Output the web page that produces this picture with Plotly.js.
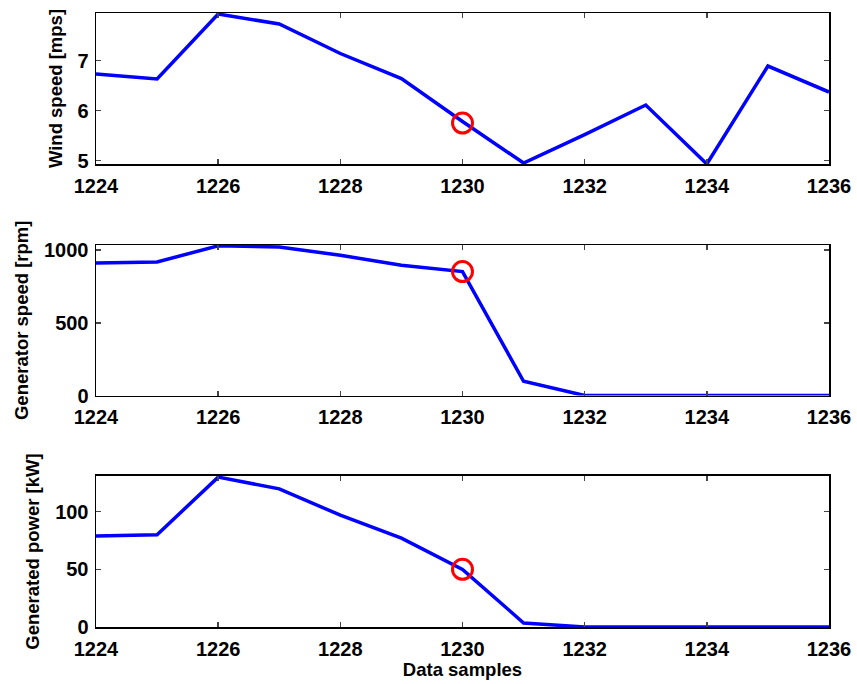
<!DOCTYPE html>
<html><head><meta charset="utf-8">
<script src="https://cdn.plot.ly/plotly-3.0.1.min.js"></script>
<style>body{margin:0;background:#fff}#c{width:857px;height:684px}</style>
</head><body><div id="c"></div>
<script>
const samples = [1224,1225,1226,1227,1228,1229,1230,1231,1232,1233,1234,1235,1236];
const windSpeed = [6.73,6.63,7.93,7.73,7.14,6.64,5.78,4.95,5.52,6.11,4.93,6.89,6.37];
const genSpeed = [912,919,1030,1022,965,897,853,98,0,0,0,0,0];
const genPower = [79,80,130,119.8,97,77,50,3.5,0,0,0,0,0];
const markX = [1230];
const markWind = [5.75];
const markSpeed = [853];
const markPower = [50];
const xTicks = [1224,1226,1228,1230,1232,1234,1236];

const blue = {color:'#0000ff', width:3.5};
const mk = {symbol:'circle-open', size:20, color:'#ff0000', line:{width:3, color:'#ff0000'}};
const traces = [
  {x:samples, y:windSpeed, mode:'lines', line:blue, xaxis:'x', yaxis:'y'},
  {x:markX, y:markWind, mode:'markers', marker:mk, xaxis:'x', yaxis:'y'},
  {x:samples, y:genSpeed, mode:'lines', line:blue, xaxis:'x2', yaxis:'y2'},
  {x:markX, y:markSpeed, mode:'markers', marker:mk, xaxis:'x2', yaxis:'y2'},
  {x:samples, y:genPower, mode:'lines', line:blue, xaxis:'x3', yaxis:'y3'},
  {x:markX, y:markPower, mode:'markers', marker:mk, xaxis:'x3', yaxis:'y3'}
];
const tf = {family:'Liberation Sans, Arial, sans-serif', size:20, color:'#000', weight:'bold'};
const titf = {family:'Liberation Sans, Arial, sans-serif', size:18.5, color:'#000', weight:'bold'};
function xa(anchor, title){
  const o = {range:[1224,1236], tickvals:xTicks, ticks:'inside', ticklen:5, tickwidth:1.5,
    showline:true, linecolor:'#000', linewidth:1.5, mirror:'ticks', showgrid:false, zeroline:false,
    anchor:anchor, tickfont:tf, ticklabelstandoff:3, fixedrange:true};
  if (title) o.title = {text:title, font:titf, standoff:4};
  return o;
}
function ya(anchor, dom, range, tv, title){
  return {domain:dom, range:range, tickvals:tv, ticks:'inside', ticklen:5, tickwidth:1.5,
    showline:true, linecolor:'#000', linewidth:1.5, mirror:'ticks', showgrid:false, zeroline:false,
    anchor:anchor, tickfont:tf, ticklabelstandoff:2, title:{text:title, font:titf, standoff:10}};
}
const layout = {
  width:857, height:684, showlegend:false,
  paper_bgcolor:'#fff', plot_bgcolor:'#fff',
  margin:{l:96, r:28, t:13, b:57},
  xaxis: xa('y'),
  xaxis2: xa('y2'),
  xaxis3: xa('y3', 'Data samples'),
  yaxis: ya('x', [0.754,1], [4.93,7.95], [5,6,7], 'Wind speed [mps]'),
  yaxis2: ya('x2', [0.377,0.622], [0,1035], [0,500,1000], 'Generator speed [rpm]'),
  yaxis3: ya('x3', [0,0.246], [0,131], [0,50,100], 'Generated power [kW]')
};
Plotly.newPlot('c', traces, layout, {staticPlot:true});
</script></body></html>
